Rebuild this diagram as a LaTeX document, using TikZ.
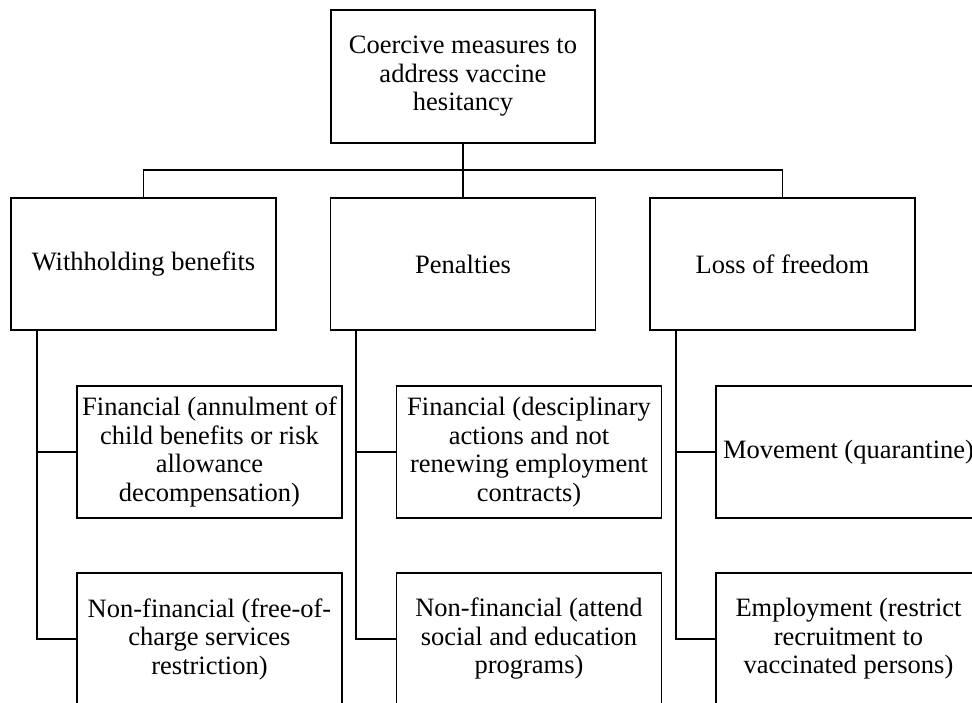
\documentclass[tikz,border=0pt]{standalone}
\usepackage{fontspec}
\setmainfont{Liberation Serif}
\begin{document}
\begin{tikzpicture}[x=1pt,y=-1pt,
  box/.style={draw, line width=1.6pt, minimum width=265pt, minimum height=132pt,
    inner sep=2pt, align=center, font=\fontsize{26.5}{28.5}\selectfont},
  conn/.style={line width=1.6pt}]
\useasboundingbox (0,0) rectangle (972,702);
\clip (0,0) rectangle (972,702);
\fill[white] (0,0) rectangle (972,702);
% top
\node[box, minimum width=264pt, minimum height=133pt] (top) at (463,76.5) {Coercive measures to\\address vaccine\\hesitancy};
% level 2
\node[box] (wb) at (143.5,264) {Withholding benefits};
\node[box] (pen) at (463,264) {Penalties};
\node[box] (lf) at (782.5,264) {Loss of freedom};
% level 3
\node[box] (wf) at (209.5,452) {Financial (annulment of\\child benefits or risk\\allowance\\decompensation)};
\node[box] (wn) at (209.5,639) {Non-financial (free-of-\\charge services\\restriction)};
\node[box] (pf) at (529,452) {Financial (desciplinary\\actions and not\\renewing employment\\contracts)};
\node[box] (pn) at (529,639) {Non-financial (attend\\social and education\\programs)};
\node[box] (lff) at (848.5,452) {Movement (quarantine)};
\node[box] (lfn) at (848.5,639) {Employment (restrict\\recruitment to\\vaccinated persons)};
% connectors top
\coordinate (j) at (463,170);
\draw[conn] (top.south) -- (pen.north);
\draw[conn] (wb.north) |- (j) -| (lf.north);
% left column
\draw[conn] ([xshift=27pt]wb.south west) |- (wf.west);
\draw[conn] ([xshift=27pt]wb.south west) |- (wn.west);
\draw[conn] ([xshift=26pt]pen.south west) |- (pf.west);
\draw[conn] ([xshift=26pt]pen.south west) |- (pn.west);
\draw[conn] ([xshift=27pt]lf.south west) |- (lff.west);
\draw[conn] ([xshift=27pt]lf.south west) |- (lfn.west);
\end{tikzpicture}
\end{document}
